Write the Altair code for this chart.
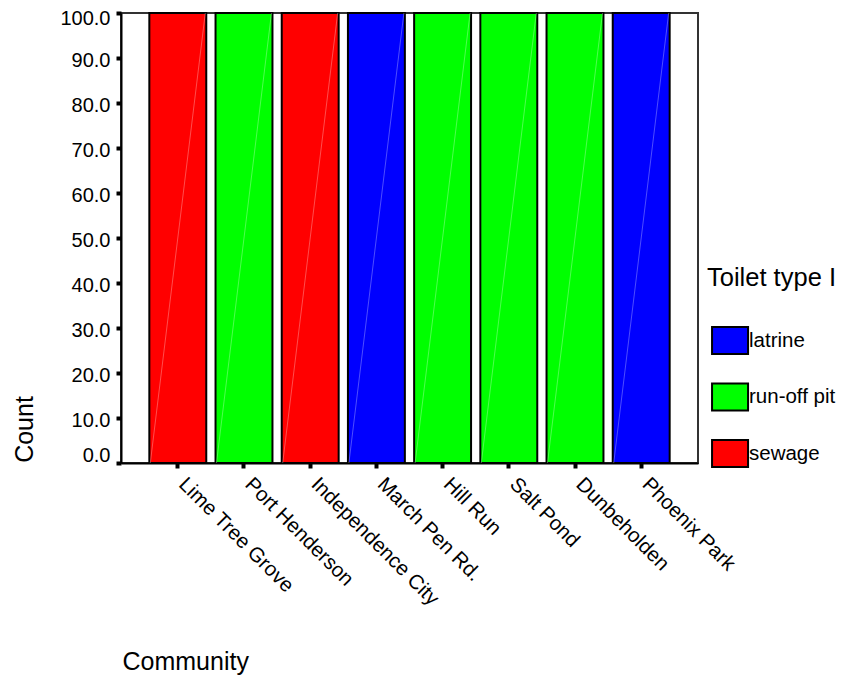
import altair as alt
import pandas as pd

communities = ["Lime Tree Grove", "Port Henderson", "Independence City", "March Pen Rd.",
               "Hill Run", "Salt Pond", "Dunbeholden", "Phoenix Park"]
toilet_types = ["sewage", "run-off pit", "sewage", "latrine",
                "run-off pit", "run-off pit", "run-off pit", "latrine"]
counts = [100.0, 100.0, 100.0, 100.0, 100.0, 100.0, 100.0, 100.0]

type_domain = ["latrine", "run-off pit", "sewage"]
type_colors = ["#0000ff", "#00ff00", "#ff0000"]
y_ticks = [0, 10, 20, 30, 40, 50, 60, 70, 80, 90, 100]

df = pd.DataFrame({"Community": communities, "Toilet": toilet_types, "Count": counts,
                   "Zero": [0.0] * len(communities)})

FONT = "Liberation Sans"
rect_path = "M-0.7,-1L1.967,-1L1.967,1L-0.7,1Z"

x_enc = alt.X(
    "Community:N", sort=communities,
    scale=alt.Scale(paddingInner=0.14, paddingOuter=0.428),
    axis=alt.Axis(
        title="Community", labelAngle=45, labelAlign="left", labelBaseline="alphabetic",
        labelPadding=17, tickSize=5, tickWidth=4, tickColor="black",
        domainColor="black", domainWidth=2, labelFontSize=20.5, labelColor="black",
        titleFontSize=25, titleFontWeight="normal", titleX=1, titleY=206,
        titleAlign="left", titleBaseline="alphabetic", titleColor="black", grid=False,
    ),
)
y_enc = alt.Y(
    "Count:Q", stack="zero",
    scale=alt.Scale(domain=[0, 100], nice=False),
    axis=alt.Axis(
        values=y_ticks, format=".1f", title="Count", titleAngle=270,
        titleX=-89, titleY=416, titleAlign="center", titleBaseline="alphabetic",
        titleFontSize=25, titleFontWeight="normal", titleColor="black",
        tickSize=5, tickWidth=4, tickColor="black", domainColor="black", domainWidth=2,
        labelFontSize=20, labelPadding=6, labelColor="black", grid=False,
        labelOffset={"condition": {"test": "datum.value == 100", "value": 5},
                     "value": 2.5},
        labelBaseline={"condition": {"test": "datum.value == 0", "value": "bottom"},
                       "value": "middle"},
    ),
)

bars = alt.Chart(df).mark_bar(stroke="black", strokeWidth=2).encode(
    x=x_enc,
    y=y_enc,
    color=alt.Color(
        "Toilet:N",
        scale=alt.Scale(domain=type_domain, range=type_colors),
        legend=alt.Legend(
            title="Toilet type I", orient="none", legendX=586, legendY=253,
            titleFontSize=25.5, titleFontWeight="normal", titleColor="black",
            titlePadding=34.5, padding=0,
            labelFontSize=20.5, labelColor="black", labelOffset=13,
            symbolType=rect_path, symbolSize=729, symbolStrokeColor="black",
            symbolStrokeWidth=2, symbolOpacity=1, rowPadding=21.5,
        ),
    ),
)

diag = alt.Chart(df).mark_rule(
    color="white", strokeWidth=1, opacity=0.3, xOffset=-27.5, x2Offset=27.5
).encode(
    x=alt.X("Community:N", sort=communities),
    x2="Community:N",
    y=alt.Y("Zero:Q"),
    y2="Count:Q",
)

chart = alt.layer(bars, diag).properties(
    width=577, height=450,
    autosize=alt.AutoSizeParams(type="none"),
    padding={"left": 113, "top": 5, "right": 140, "bottom": 212},
).configure(
    font=FONT,
).configure_view(
    stroke="#333333", strokeWidth=2,
)

chart.save("out.html", embed_options={"renderer": "svg", "actions": False})
